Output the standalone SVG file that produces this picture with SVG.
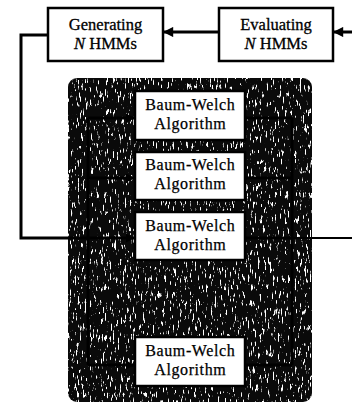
<svg xmlns="http://www.w3.org/2000/svg" width="352" height="405" viewBox="0 0 352 405">
<style>
.box{fill:#fff;stroke:#000;stroke-width:2.5}
.t{font-family:"Liberation Serif","Times New Roman",serif;font-size:16.5px;fill:#000;stroke:#000;stroke-width:0.3;text-anchor:middle}
.b{font-family:"Liberation Serif","Times New Roman",serif;font-size:16px;letter-spacing:0.6px;fill:#000;stroke:#000;stroke-width:0.25;text-anchor:middle}
.ln{fill:none;stroke:#000;stroke-width:3}
.thin{fill:none;stroke:#000;stroke-width:2}
</style>
<defs>
<marker id="ah" viewBox="0 0 10 10" refX="10" refY="5" markerWidth="4" markerHeight="3.4" markerUnits="strokeWidth" orient="auto">
<path d="M0,0 L10,5 L0,10 z" fill="#000"/>
</marker>
<marker id="sm" viewBox="0 0 10 10" refX="10" refY="5" markerWidth="3" markerHeight="3" markerUnits="strokeWidth" orient="auto">
<path d="M0,0 L10,5 L0,10 z" fill="#000"/>
</marker>
<filter id="speck" x="0" y="0" width="100%" height="100%">
<feTurbulence type="fractalNoise" baseFrequency="0.6 0.12" numOctaves="3" seed="7" result="n"/>
<feColorMatrix in="n" type="matrix" values="0 0 0 0 1 0 0 0 0 1 0 0 0 0 1 12 0 0 0 -7.4" result="w"/>
<feComposite in="w" in2="SourceGraphic" operator="in"/>
</filter>
<clipPath id="pc"><rect x="68" y="78" width="244" height="324" rx="9"/></clipPath>
</defs>
<g id="panel">
<rect x="68" y="78" width="244" height="324" rx="9" fill="#0a0a0a"/>
<rect x="68" y="78" width="244" height="324" rx="9" fill="#fff" filter="url(#speck)" clip-path="url(#pc)"/>
</g>
<g id="connectors">
<path class="ln" d="M352,32 H333" marker-end="url(#ah)"/>
<path class="ln" d="M219,32 H163" marker-end="url(#ah)"/>
<path class="ln" d="M48,35 H21 V238 H135" marker-end="url(#sm)"/>
<path class="ln" d="M88,118 V365"/>
<path class="ln" d="M88,118 H135" marker-end="url(#sm)"/>
<path class="ln" d="M88,178 H135" marker-end="url(#sm)"/>
<path class="ln" d="M88,365 H135" marker-end="url(#sm)"/>
<path class="ln" d="M292,118 V365"/>
<path class="ln" d="M245,118 H292 M245,178 H292 M245,238 H292 M245,365 H292"/>
<path class="thin" d="M292,238 H352"/>
</g>
<g id="gen">
<rect class="box" x="48" y="8" width="115" height="53"/>
<text class="t" x="105.5" y="30">Generating</text>
<text class="t" x="105.5" y="49"><tspan font-style="italic">N</tspan> HMMs</text>
</g>
<g id="eval">
<rect class="box" x="219" y="8" width="114" height="53"/>
<text class="t" x="276" y="30">Evaluating</text>
<text class="t" x="276" y="49"><tspan font-style="italic">N</tspan> HMMs</text>
</g>
<g id="bw1">
<rect class="box" x="135" y="91" width="110" height="49"/>
<text class="b" x="190.3" y="110">Baum-Welch</text>
<text class="b" x="190.3" y="129">Algorithm</text>
</g>
<g id="bw2">
<rect class="box" x="135" y="152" width="110" height="48"/>
<text class="b" x="190.3" y="170">Baum-Welch</text>
<text class="b" x="190.3" y="189">Algorithm</text>
</g>
<g id="bw3">
<rect class="box" x="135" y="212" width="110" height="48"/>
<text class="b" x="190.3" y="231">Baum-Welch</text>
<text class="b" x="190.3" y="250">Algorithm</text>
</g>
<g id="bw4">
<rect class="box" x="135" y="337" width="110" height="49"/>
<text class="b" x="190.3" y="356">Baum-Welch</text>
<text class="b" x="190.3" y="375">Algorithm</text>
</g>
</svg>
